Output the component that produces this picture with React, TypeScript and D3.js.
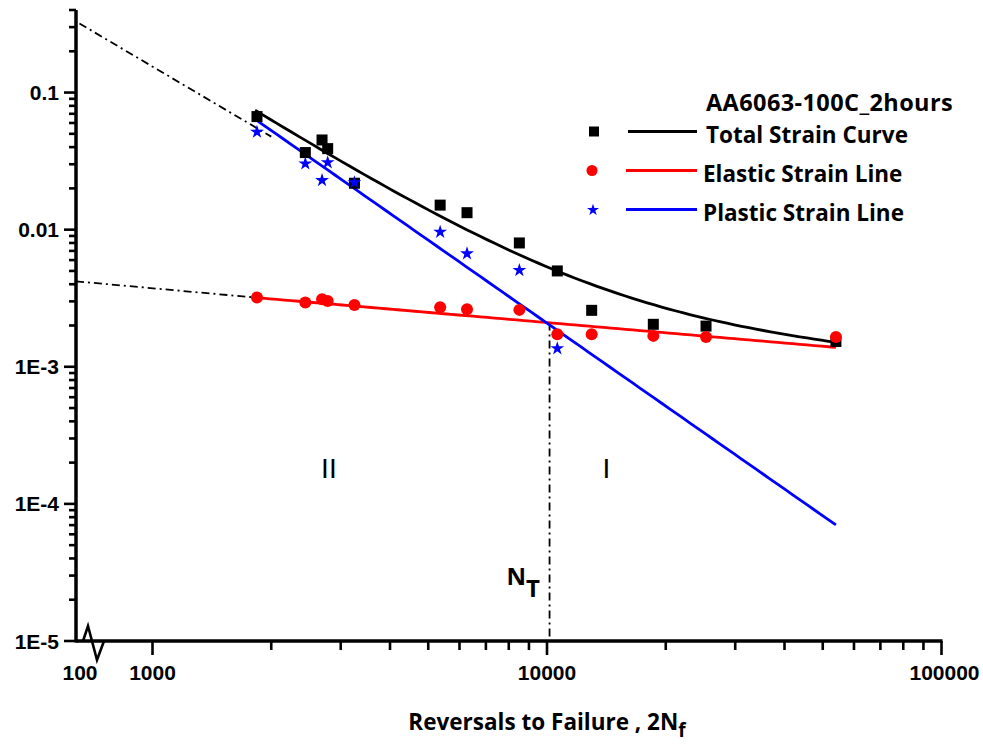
import React from 'react';
import * as d3 from 'd3';

const W = 983;
const H = 744;

// Reversals to failure (2Nf) for each specimen
const reversals = [1840, 2440, 2690, 2780, 3250, 5360, 6270, 8510, 10620, 12980, 18600, 25300, 54000];
// Measured strain amplitudes
const totalStrain = [0.0668, 0.0365, 0.0451, 0.039, 0.0218, 0.0151, 0.0133, 0.008, 0.005, 0.00258, 0.00204, 0.00198, 0.00153];
const elasticStrain = [0.0032, 0.00294, 0.00311, 0.00302, 0.00282, 0.00272, 0.00263, 0.0026, 0.00173, 0.00173, 0.00168, 0.00165, 0.00165];
const plasticReversals = [1840, 2440, 2690, 2780, 3250, 5360, 6270, 8510, 10620];
const plasticStrain = [0.0516, 0.0303, 0.0229, 0.0309, 0.0221, 0.00962, 0.00669, 0.00506, 0.00136];

// Fitted relations (strain = coef * (2Nf)^exp)
const fitRange = [1820, 54000];
const elasticFit = { coef: 0.02043, exp: -0.247 };
const plasticFit = { coef: 228200, exp: -2.01 };
const totalFitElastic = { coef: 0.0199, exp: -0.247 };
const totalFitPlastic = { coef: 52500, exp: -1.8 };

// Extrapolations toward the axis origin
const plasticExtension = [[100, 0.33], [2000, 0.0477]];
const elasticExtensionStart = [100, 0.0042];

// Transition life
const transitionLife = 10150;

// Axis ticks
const xMajor = [1000, 10000, 100000];
const xMajorLabels = ['1000', '10000', '100000'];
const xOriginLabel = '100';
const yMajor = [1e-5, 1e-4, 1e-3, 0.01, 0.1];
const yMajorLabels = ['1E-5', '1E-4', '1E-3', '0.01', '0.1'];

const legendTitle = 'AA6063-100C_2hours';
const legendItems = ['Total Strain Curve', 'Elastic Strain Line', 'Plastic Strain Line'];

const x = d3.scaleLog().domain([100, 1000, 100000]).range([76, 152.5, 941.5]);
const y = d3.scaleLog().domain([1e-5, 0.4]).range([641, 10]);

const pow = (f: { coef: number; exp: number }) => (n: number) => f.coef * Math.pow(n, f.exp);
const elastic = pow(elasticFit);
const plastic = pow(plasticFit);
const totalA = pow(totalFitElastic);
const totalB = pow(totalFitPlastic);

const samples = d3.range(0, 81).map((i) => fitRange[0] * Math.pow(fitRange[1] / fitRange[0], i / 80));

const line = d3
  .line<[number, number]>()
  .x((d) => x(d[0]))
  .y((d) => y(d[1]));

const xMinor: number[] = [];
[1000, 10000].forEach((b) => {
  for (let k = 2; k <= 9; k++) xMinor.push(b * k);
});
const yMinor: number[] = [];
[1e-5, 1e-4, 1e-3, 0.01].forEach((b) => {
  for (let k = 2; k <= 9; k++) yMinor.push(b * k);
});
[0.2, 0.3, 0.4].forEach((v) => yMinor.push(v));

const RED = '#ff0000';
const BLUE = '#0000ff';
const DASHDOT = '8 4 2 4';

const starPath = d3.symbol(d3.symbolStar, 60)() as string;
const starPathSmall = d3.symbol(d3.symbolStar, 45)() as string;

const tickFont = "'Liberation Sans', Arial, sans-serif";
const textFont = "'Open Sans', Lato, sans-serif";

export default function App() {
  const crossing = Math.pow(plasticFit.coef / elasticFit.coef, 1 / (elasticFit.exp - plasticFit.exp));
  const x0 = x(100);
  const yBase = y(1e-5);

  return (
    <svg
      width={W}
      height={H}
      viewBox={`0 0 ${W} ${H}`}
      style={{ position: 'absolute', left: 0, top: 0, background: '#fff' }}
    >
      <rect width={W} height={H} fill="#fff" />

      {/* extrapolated dash-dot lines */}
      <path
        d={line(plasticExtension as [number, number][]) as string}
        fill="none"
        stroke="#000"
        strokeWidth={1.8}
        strokeDasharray={DASHDOT}
        strokeDashoffset={-4}
      />
      <path
        d={line([elasticExtensionStart as [number, number], [fitRange[0], elastic(fitRange[0])]]) as string}
        fill="none"
        stroke="#000"
        strokeWidth={1.8}
        strokeDasharray={DASHDOT}
      />
      {/* transition life marker */}
      <path
        d={line([
          [transitionLife, elastic(crossing)],
          [transitionLife, 1e-5],
        ]) as string}
        fill="none"
        stroke="#000"
        strokeWidth={1.8}
        strokeDasharray={DASHDOT}
      />

      {/* fitted lines */}
      <path
        d={line(samples.map((n) => [n, elastic(n)] as [number, number])) as string}
        fill="none"
        stroke={RED}
        strokeWidth={2.8}
      />
      <path
        d={line(samples.map((n) => [n, plastic(n)] as [number, number])) as string}
        fill="none"
        stroke={BLUE}
        strokeWidth={2.8}
      />
      <path
        d={line(samples.map((n) => [n, totalA(n) + totalB(n)] as [number, number])) as string}
        fill="none"
        stroke="#000"
        strokeWidth={2.8}
      />

      {/* measured points */}
      {reversals.map((n, i) => (
        <rect key={'t' + i} x={x(n) - 5.5} y={y(totalStrain[i]) - 5.5} width={11} height={11} fill="#000" />
      ))}
      {reversals.map((n, i) => (
        <circle key={'e' + i} cx={x(n)} cy={y(elasticStrain[i])} r={6} fill={RED} />
      ))}
      {plasticReversals.map((n, i) => (
        <path key={'p' + i} d={starPath} transform={`translate(${x(n)},${y(plasticStrain[i])})`} fill={BLUE} />
      ))}

      {/* axes */}
      <g stroke="#000" strokeWidth={2.6}>
        {yMajor.map((v) => (
          <line key={'ym' + v} x1={x0 - 12} x2={x0} y1={y(v)} y2={y(v)} />
        ))}
        {yMinor.map((v) => (
          <line key={'yn' + v} x1={x0 - 7} x2={x0} y1={y(v)} y2={y(v)} />
        ))}
        {xMajor.map((v) => (
          <line key={'xm' + v} x1={x(v)} x2={x(v)} y1={yBase} y2={yBase + 14} />
        ))}
        {xMinor.map((v) => (
          <line key={'xn' + v} x1={x(v)} x2={x(v)} y1={yBase} y2={yBase + 9} />
        ))}
      </g>
      <line x1={x0} x2={x0} y1={y(0.4)} y2={yBase + 1.5} stroke="#000" strokeWidth={3.5} />
      <line x1={x0} x2={x(100000) + 1} y1={yBase} y2={yBase} stroke="#000" strokeWidth={3.5} />
      {/* axis break */}
      <path
        d={`M${x0 + 7},${yBase} L${x0 + 12},${yBase - 15} L${x0 + 21},${yBase + 19} L${x0 + 28},${yBase}`}
        fill="none"
        stroke="#000"
        strokeWidth={2.6}
        strokeLinejoin="miter"
      />

      <g fontFamily={tickFont} fontWeight="bold" fontSize={21} fill="#000">
        {yMajor.map((v, i) => (
          <text key={'yl' + v} x={x0 - 17} y={y(v)} dy="0.36em" textAnchor="end">
            {yMajorLabels[i]}
          </text>
        ))}
        {xMajor.map((v, i) => (
          <text key={'xl' + v} x={x(v) + (i === 2 ? 3 : 0)} y={680} textAnchor="middle">
            {xMajorLabels[i]}
          </text>
        ))}
        <text x={x0 + 4} y={680} textAnchor="middle">
          {xOriginLabel}
        </text>
      </g>

      {/* axis title */}
      <text x={547} y={730} textAnchor="middle" fontFamily={textFont} fontWeight="bold" fontSize={22.5} fill="#000">
        Reversals to Failure , 2N
        <tspan dy={7} fontSize={19}>
          f
        </tspan>
      </text>

      {/* region labels */}
      <g fontFamily={tickFont} fontSize={28} fill="#000" textAnchor="middle">
        <text x={x(2800)} y={478}>
          II
        </text>
        <text x={x(14150)} y={478}>
          I
        </text>
      </g>

      {/* transition label */}
      <text x={x(transitionLife) - 43} y={585} fontFamily={textFont} fontWeight="bold" fontSize={24} fill="#000">
        N
        <tspan dy={12}>T</tspan>
      </text>

      {/* legend */}
      <g fontFamily={textFont} fill="#000">
        <text x={706} y={111} fontSize={23.5} fontWeight="bold" letterSpacing={0.4}>
          {legendTitle}
        </text>
        <rect x={589} y={126.5} width={10} height={10} fill="#000" />
        <line x1={628} x2={697} y1={131.5} y2={131.5} stroke="#000" strokeWidth={2.8} />
        <circle cx={592} cy={170.5} r={5.5} fill={RED} />
        <line x1={626} x2={697} y1={170.5} y2={170.5} stroke={RED} strokeWidth={2.8} />
        <path d={starPathSmall} transform="translate(593,210)" fill={BLUE} />
        <line x1={626} x2={697} y1={209.5} y2={209.5} stroke={BLUE} strokeWidth={2.8} />
        {legendItems.map((t, i) => (
          <text key={t} x={i === 0 ? 706 : 703} y={143 + i * 39} fontSize={22.5} fontWeight="bold">
            {t}
          </text>
        ))}
      </g>
    </svg>
  );
}
